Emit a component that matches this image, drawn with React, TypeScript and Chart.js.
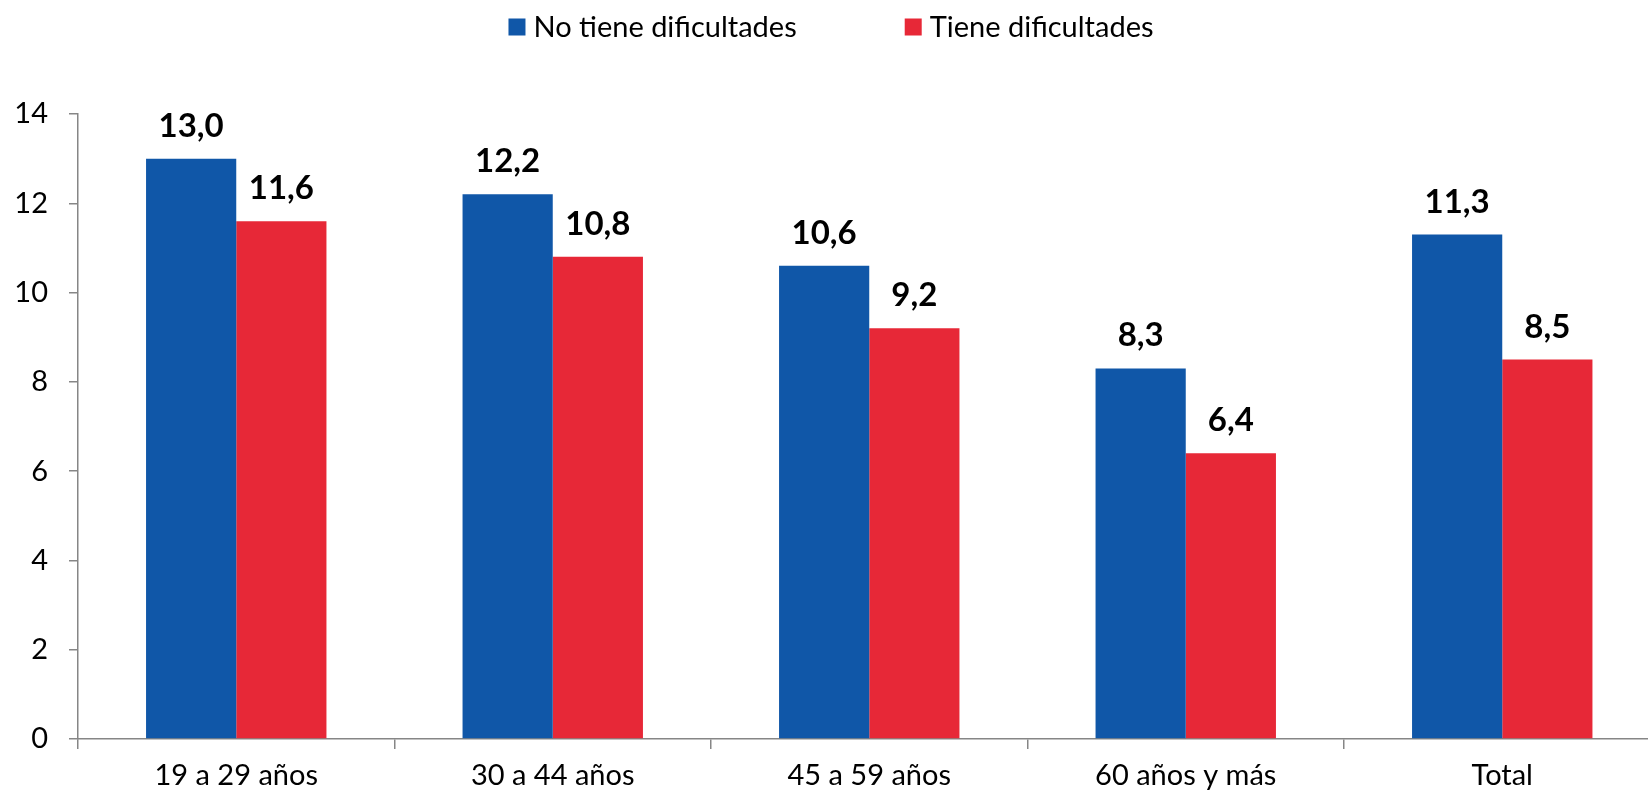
import React, { useEffect, useRef } from "react";
import { Chart, registerables } from "chart.js";

Chart.register(...registerables);

const categories = ["19 a 29 años", "30 a 44 años", "45 a 59 años", "60 años y más", "Total"];
const seriesLabels = ["No tiene dificultades", "Tiene dificultades"];
const noTieneValues = [13.0, 12.2, 10.6, 8.3, 11.3];
const tieneValues = [11.6, 10.8, 9.2, 6.4, 8.5];
const yTickValues = [0, 2, 4, 6, 8, 10, 12, 14];
const seriesColors = ["#1057A8", "#E72837"];

const W = 1664;
const H = 830;
const ZERO_Y = 739;
const TOP_Y = 114;
const FONT = "Lato, 'Open Sans', sans-serif";
const AXIS_COLOR = "#868686";

const fmt = (v: number) => v.toFixed(1).replace(".", ",");

const dataLabelPlugin = {
  id: "dataLabels",
  afterDatasetsDraw(chart: any) {
    const ctx = chart.ctx;
    ctx.save();
    ctx.font = `bold 33px ${FONT}`;
    ctx.fillStyle = "#000";
    ctx.textAlign = "center";
    ctx.textBaseline = "alphabetic";
    chart.data.datasets.forEach((ds: any, i: number) => {
      const meta = chart.getDatasetMeta(i);
      meta.data.forEach((el: any, j: number) => {
        ctx.fillText(fmt(ds.data[j]), el.x, el.y - 22);
      });
    });
    ctx.restore();
  },
};

const legendPlugin = {
  id: "customLegend",
  afterDraw(chart: any) {
    const ctx = chart.ctx;
    ctx.save();
    ctx.font = `29px ${FONT}`;
    const box = 17;
    const gapText = 8;
    const gapItem = 108;
    const widths = chart.data.datasets.map((d: any) => ctx.measureText(d.label).width);
    const total = widths.reduce((a: number, w: number) => a + box + gapText + w, 0) + gapItem * (widths.length - 1);
    let x = 831 - total / 2;
    const cy = 27;
    ctx.textBaseline = "middle";
    ctx.textAlign = "left";
    chart.data.datasets.forEach((d: any, i: number) => {
      ctx.fillStyle = d.backgroundColor;
      ctx.fillRect(x, cy - box / 2, box, box);
      x += box + gapText;
      ctx.fillStyle = "#000";
      ctx.fillText(d.label, x, cy + 1);
      x += widths[i] + gapItem;
    });
    ctx.restore();
  },
};

export default function App() {
  const ref = useRef<HTMLCanvasElement>(null);
  useEffect(() => {
    if (!ref.current) return;
    const chart = new Chart(ref.current, {
      type: "bar",
      data: {
        labels: categories,
        datasets: [
          { label: seriesLabels[0], data: noTieneValues, backgroundColor: seriesColors[0] },
          { label: seriesLabels[1], data: tieneValues, backgroundColor: seriesColors[1] },
        ],
      },
      options: {
        responsive: false,
        animation: false,
        devicePixelRatio: 1,
        layout: { padding: { top: TOP_Y, right: W - 1660.5, left: 0, bottom: 0 } },
        plugins: { legend: { display: false }, tooltip: { enabled: false } },
        datasets: { bar: { categoryPercentage: 0.57, barPercentage: 1 } },
        scales: {
          x: {
            grid: { display: true, drawOnChartArea: false, tickLength: 10, color: AXIS_COLOR, offset: true, lineWidth: 1.5 },
            border: { color: AXIS_COLOR, width: 1.5 },
            ticks: { color: "#000", font: { family: FONT, size: 29 }, padding: 9, maxRotation: 0 },
            afterFit: (s: any) => { s.height = H - ZERO_Y; },
          },
          y: {
            min: 0,
            max: 14,
            grid: { display: true, drawOnChartArea: false, tickLength: 9, color: AXIS_COLOR, lineWidth: 1.5 },
            border: { color: AXIS_COLOR, width: 1.5 },
            ticks: { color: "#000", font: { family: FONT, size: 29 }, padding: 21, stepSize: 2 },
            afterBuildTicks: (s: any) => { s.ticks = yTickValues.map((v) => ({ value: v })); },
            afterFit: (s: any) => { s.width = 78; },
          },
        },
      },
      plugins: [dataLabelPlugin, legendPlugin],
    });
    return () => chart.destroy();
  }, []);
  return (
    <div style={{ position: "fixed", left: 0, top: 0, width: 1648, height: 793, overflow: "hidden", background: "#fff" }}>
      <canvas ref={ref} width={W} height={H} style={{ width: W, height: H, display: "block" }} />
    </div>
  );
}
